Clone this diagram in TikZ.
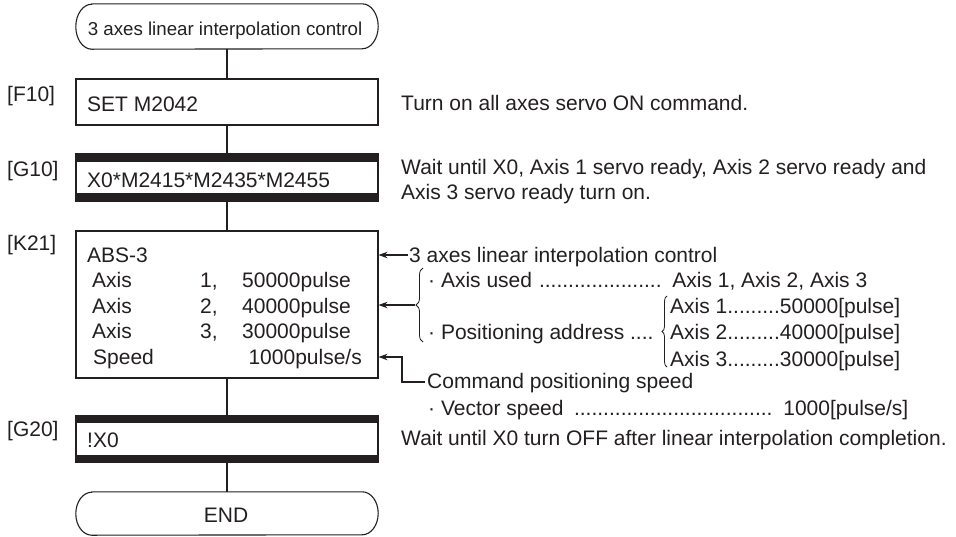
\documentclass[tikz,border=0pt]{standalone}
\usepackage{fontspec}
\setmainfont{Liberation Sans}
\usetikzlibrary{arrows.meta,decorations.pathreplacing,calc}
\definecolor{ink}{RGB}{35,31,32}
\tikzset{
  ln/.style={draw=ink, line width=1.1pt},
  boxn/.style={ln, rectangle, minimum width=302pt, inner sep=0pt},
  term/.style={rectangle, minimum width=302pt, inner sep=0pt},
  txt/.style={inner sep=0pt, anchor=base west, text=ink, font=\fontsize{21}{25}\selectfont},
  ctxt/.style={txt, anchor=base},
  arr/.style={ln, -{Stealth[length=9pt,width=6.5pt]}},
  brc/.style={draw=ink, line width=0.8pt, decorate, decoration={brace, amplitude=7pt}},
}
\newcommand{\termpath}[1]{%
  \draw[ln] ([xshift=16pt]#1.north west) -- ([xshift=-16pt]#1.north east)
    arc[start angle=90, end angle=-90, x radius=16pt, y radius=0.5*\termh]
    -- ([xshift=16pt]#1.south west)
    arc[start angle=270, end angle=90, x radius=16pt, y radius=0.5*\termh] -- cycle;}
\begin{document}
\begin{tikzpicture}[x=1pt, y=1pt]
\useasboundingbox (0,0) rectangle (956,-536);

% start terminal
\node[term, minimum height=45pt] (start) at (227,-26.5) {};
\def\termh{45pt}
\termpath{start}
\node[ctxt, font=\fontsize{18.7}{22}\selectfont] (starttxt) at (225,-35) {3 axes linear interpolation control};

% F10
\node[boxn, minimum height=46pt] (f10) at (227,-102) {};
\node[txt] (f10t) at (87,-111) {SET M2042};
\node[txt] (f10l) at (7,-101) {[F10]};
\node[txt] (f10c) at (401,-110) {Turn on all axes servo ON command.};

% G10
\node[boxn, minimum height=47pt] (g10) at (227,-177.5) {};
\fill[ink] (g10.north west) rectangle ($(g10.north east)+(0,-8.5)$);
\fill[ink] (g10.south west) rectangle ($(g10.south east)+(0,8.5)$);
\node[txt] (g10t) at (87,-187) {X0*M2415*M2435*M2455};
\node[txt] (g10l) at (7,-176) {[G10]};
\node[txt] (g10c1) at (401,-174) {Wait until X0, Axis 1 servo ready, Axis 2 servo ready and};
\node[txt] (g10c2) at (401,-199) {Axis 3 servo ready turn on.};

% K21
\node[boxn, minimum height=147pt] (k21) at (227,-304.5) {};
\node[txt] (k21l) at (7,-250) {[K21]};
\node[txt] (k0) at (87,-262) {ABS-3};
\node[txt] (k1a) at (92,-287) {Axis};
\node[txt] (k1b) at (200,-287) {1,};
\node[txt] (k1c) at (242,-287) {50000pulse};
\node[txt] (k2a) at (92,-313) {Axis};
\node[txt] (k2b) at (200,-313) {2,};
\node[txt] (k2c) at (242,-313) {40000pulse};
\node[txt] (k3a) at (92,-338) {Axis};
\node[txt] (k3b) at (200,-338) {3,};
\node[txt] (k3c) at (242,-338) {30000pulse};
\node[txt] (k4a) at (93,-364) {Speed};
\node[txt, anchor=base east] (k4b) at (362,-364) {1000pulse/s};

% K21 comments
\node[txt] (r0) at (409,-262) {3 axes linear interpolation control};
\coordinate (a0) at (408,-255);
\draw[arr] (a0) -- (a0 -| k21.east);

\node[txt] (r1) at (428,-287) {\hbox to 439pt{· Axis used \leaders\hbox{.}\hfill\ Axis 1, Axis 2, Axis 3}};
\node[txt] (r3) at (428,-339) {· Positioning address ....};
\draw[brc] (423,-342) -- (423,-268);
\coordinate (b1) at (415,-305);
\draw[arr] (b1) -- (b1 -| k21.east);

\draw[brc, decoration={brace, amplitude=5pt}] (667,-367) -- (667,-296);
\node[txt] (p1) at (670,-313) {Axis 1.........50000[pulse]};
\node[txt] (p2) at (670,-339) {Axis 2.........40000[pulse]};
\node[txt] (p3) at (670,-366) {Axis 3.........30000[pulse]};

\node[txt] (cmd) at (427,-388) {Command positioning speed};
\coordinate (e1) at (425,-382);
\coordinate (e2) at (402,-357);
\draw[arr] (e1) -| (e2) -- (e2 -| k21.east);
\node[txt] (vs) at (428,-415) {\hbox to 480pt{· Vector speed \leaders\hbox{.}\hfill\ 1000[pulse/s]}};

% G20
\node[boxn, minimum height=46pt] (g20) at (227,-439) {};
\fill[ink] (g20.north west) rectangle ($(g20.north east)+(0,-8)$);
\fill[ink] (g20.south west) rectangle ($(g20.south east)+(0,8)$);
\node[txt] (g20t) at (87,-447) {!X0};
\node[txt] (g20l) at (7,-436) {[G20]};
\node[txt] (g20c) at (401,-445) {Wait until X0 turn OFF after linear interpolation completion.};

% END terminal
\node[term, minimum height=43pt] (endt) at (227,-513.5) {};
\def\termh{43pt}
\termpath{endt}
\node[ctxt] (endtxt) at (226,-522) {END};

% connectors
\draw[ln] (start.south) -- (f10.north);
\draw[ln] (f10.south) -- (g10.north);
\draw[ln] (g10.south) -- (k21.north);
\draw[ln] (k21.south) -- (g20.north);
\draw[ln] (g20.south) -- (endt.north);
\end{tikzpicture}
\end{document}
